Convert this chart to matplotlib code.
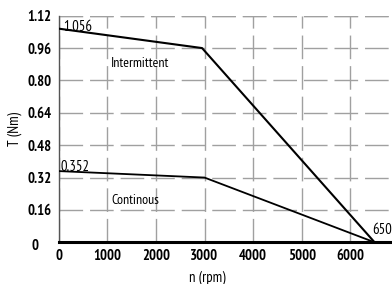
import matplotlib
matplotlib.use("Agg")
import matplotlib.pyplot as plt

plt.rcParams['font.family'] = ['PT Sans Narrow', 'Roboto Condensed', 'Archivo Narrow', 'DejaVu Sans']

# Data
speed_intermittent = [0, 2950, 6500]
torque_intermittent = [1.056, 0.96, 0.0]
speed_continuous = [0, 3000, 6500]
torque_continuous = [0.352, 0.32, 0.0]

xticks = [0, 1000, 2000, 3000, 4000, 5000, 6000]
yticks = [0, 0.16, 0.32, 0.48, 0.64, 0.80, 0.96, 1.12]
ytick_labels = ["", "0.16", "0.32", "0.48", "0.64", "0.80", "0.96", "1.12"]

FS = 10.5

fig = plt.figure(figsize=(3.92, 2.84), dpi=100)
ax = fig.add_axes([58.7/392, 1 - 242.3/284, 1 - 58.7/392, (242.3 - 15.7)/284])

ax.plot(speed_intermittent, torque_intermittent, color='black', lw=1.5, zorder=3)
ax.plot(speed_continuous, torque_continuous, color='black', lw=1.3, zorder=3)

ax.set_xlim(0, 6858)
ax.set_ylim(0, 1.12)
ax.set_xticks(xticks)
ax.set_yticks(yticks)
ax.set_yticklabels(ytick_labels)
ax.tick_params(axis='both', length=0, labelsize=FS, pad=5)
for lab in ax.get_xticklabels() + ax.get_yticklabels():
    lab.set_fontweight('bold')

# the "0" y label sits further left and slightly lower in the reference
ax.text(-0.072, -0.018, "0", transform=ax.transAxes, fontsize=FS,
        fontweight='bold', ha='center', va='center', clip_on=False)

ax.grid(True, color='#a0a0a0', lw=1.0, linestyle=(0, (17, 5)))
ax.axhline(1.12, color='#a0a0a0', lw=1.0, linestyle=(0, (17, 5)), zorder=1)

for s in ['top', 'right']:
    ax.spines[s].set_visible(False)
ax.spines['left'].set_color('#555555')
ax.spines['left'].set_linewidth(1.0)
ax.spines['bottom'].set_color('black')
ax.spines['bottom'].set_linewidth(2.2)

ax.set_xlabel("n (rpm)", fontsize=FS)
ax.set_ylabel("T (Nm)", fontsize=FS)
ax.xaxis.set_label_coords((207 - 58.7) / (392 - 58.7), -0.125)
ax.yaxis.set_label_coords(-0.11, 0.5)

ax.text(88, 1.044, "1.056", fontsize=FS, ha='left', va='baseline')
ax.text(1076, 0.866, "Intermittent", fontsize=10, ha='left', va='baseline')
ax.text(27, 0.352, "0.352", fontsize=FS, ha='left', va='baseline')
ax.text(1076, 0.189, "Continous", fontsize=10, ha='left', va='baseline')
ax.text(6447, 0.041, "6500", fontsize=FS, ha='left', va='baseline', clip_on=False)

fig.savefig("out.png", dpi=100)
